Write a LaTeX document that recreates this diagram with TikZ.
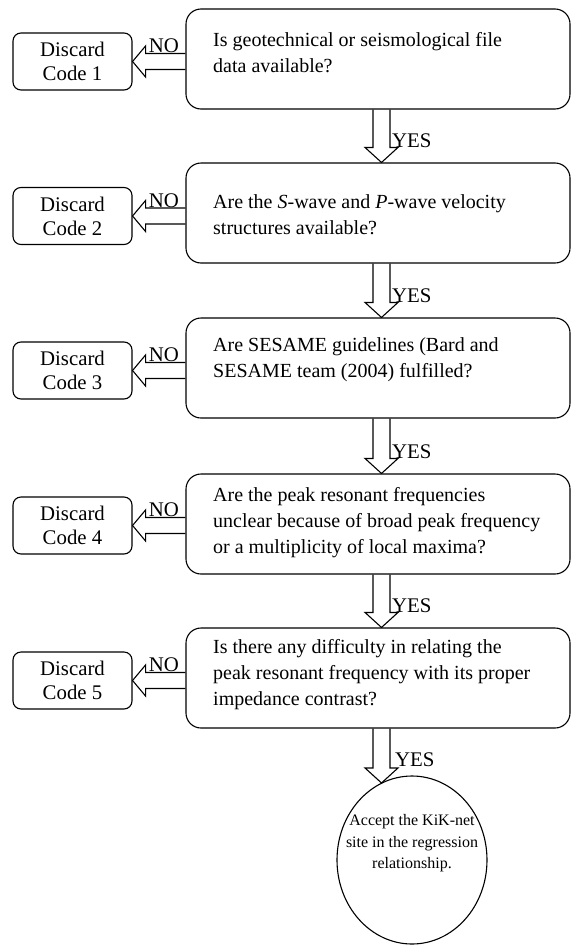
\documentclass[tikz,border=0pt]{standalone}
\usepackage{fontspec}
\setmainfont{Liberation Serif}
\usetikzlibrary{shapes.geometric,calc}

\tikzset{
  question/.style={draw, rounded corners=15pt, minimum width=384pt, minimum height=100pt, line width=1.1pt},
  discard/.style={draw, rounded corners=8pt, minimum width=119pt, minimum height=57pt, line width=1.1pt,
    align=center, inner sep=0pt, font=\fontsize{20.8}{24}\selectfont},
  qtext/.style={anchor=north west, align=left, inner sep=0pt, font=\fontsize{20}{26}\selectfont},
  lbl/.style={inner sep=0pt, font=\fontsize{20.8}{24}\selectfont},
  blockarrow/.style={line width=1.1pt, line join=miter},
  accept/.style={draw, ellipse, minimum width=150pt, minimum height=168pt, line width=1.1pt, inner sep=0pt},
}

% hollow arrow going down, from a box to the next one
\newcommand{\yesarrow}[2]{%
  \draw[blockarrow] let \p1=(#1), \p2=(#2) in
    (\x1-5pt,\y1) -- (\x1-5pt,\y2+15pt) -- (\x1-13pt,\y2+15pt) -- (\x1+3.5pt,\y2)
    -- (\x1+20pt,\y2+15pt) -- (\x1+12pt,\y2+15pt) -- (\x1+12pt,\y1);
}
% hollow arrow going left, from a question to its discard box
\newcommand{\noarrow}[2]{%
  \draw[blockarrow] let \p1=(#1.west), \p2=(#2.east) in
    (\x1,\y2+8pt) -- (\x2+13pt,\y2+8pt) -- (\x2+13pt,\y2+15.5pt) -- (\x2,\y2)
    -- (\x2+13pt,\y2-15.5pt) -- (\x2+13pt,\y2-8pt) -- (\x1,\y2-8pt);
}

\begin{document}
\begin{tikzpicture}[x=1pt, y=-1pt]
  \useasboundingbox (0,0) rectangle (572,945);

  % Preguntas
  \node[question] (q1) at (378,59) {};
  \node[question] (q2) at (378,213) {};
  \node[question] (q3) at (378,368) {};
  \node[question] (q4) at (378,524) {};
  \node[question] (q5) at (378,678) {};

  \node[qtext] (t1) at (213,32.5) {Is geotechnical or seismological file\\data available?};
  \node[qtext] (t2) at (213,194.5) {Are the \textit{S}-wave and \textit{P}-wave velocity\\structures available?};
  \node[qtext] (t3) at (213,337.5) {Are SESAME guidelines (Bard and\\SESAME team (2004) fulfilled?};
  \node[qtext] (t4) at (213,487.5) {Are the peak resonant frequencies\\unclear because of broad peak frequency\\or a multiplicity of local maxima?};
  \node[qtext] (t5) at (213,639.5) {Is there any difficulty in relating the\\peak resonant frequency with its proper\\impedance contrast?};

  % Cajas de descarte
  \node[discard] (d1) at (72.5,61.5) {Discard\\Code 1};
  \node[discard] (d2) at (72.5,216) {Discard\\Code 2};
  \node[discard] (d3) at (72.5,370.5) {Discard\\Code 3};
  \node[discard] (d4) at (72.5,525.5) {Discard\\Code 4};
  \node[discard] (d5) at (72.5,680.5) {Discard\\Code 5};

  % Resultado final
  \node[accept] (ell) at (412,860) {};
  \node[lbl, align=center, font=\fontsize{16}{21.5}\selectfont] (acc) at (412,843.5)
    {Accept the KiK-net\\site in the regression\\relationship.};

  % Flechas NO
  \foreach \q/\d in {q1/d1, q2/d2, q3/d3, q4/d4, q5/d5}
    \noarrow{\q}{\d};
  \foreach \d/\n in {d1/n1, d2/n2, d3/n3, d4/n4, d5/n5}
    \node[lbl, anchor=base west] (\n) at ($(\d.east)+(16,-9)$) {NO};

  % Flechas YES
  \foreach \from/\to in {q1/q2, q2/q3, q3/q4, q4/q5}
    \yesarrow{\from.south}{\to.north};
  \yesarrow{q5.south}{ell.112};
  \foreach \to/\y in {q2/y1, q3/y2, q4/y3, q5/y4}
    \node[lbl, anchor=base west] (\y) at ($(\to.north)+(14,-15)$) {YES};
  \node[lbl, anchor=base west] (y5) at ($(q5.south)+(17,38)$) {YES};
\end{tikzpicture}
\end{document}
